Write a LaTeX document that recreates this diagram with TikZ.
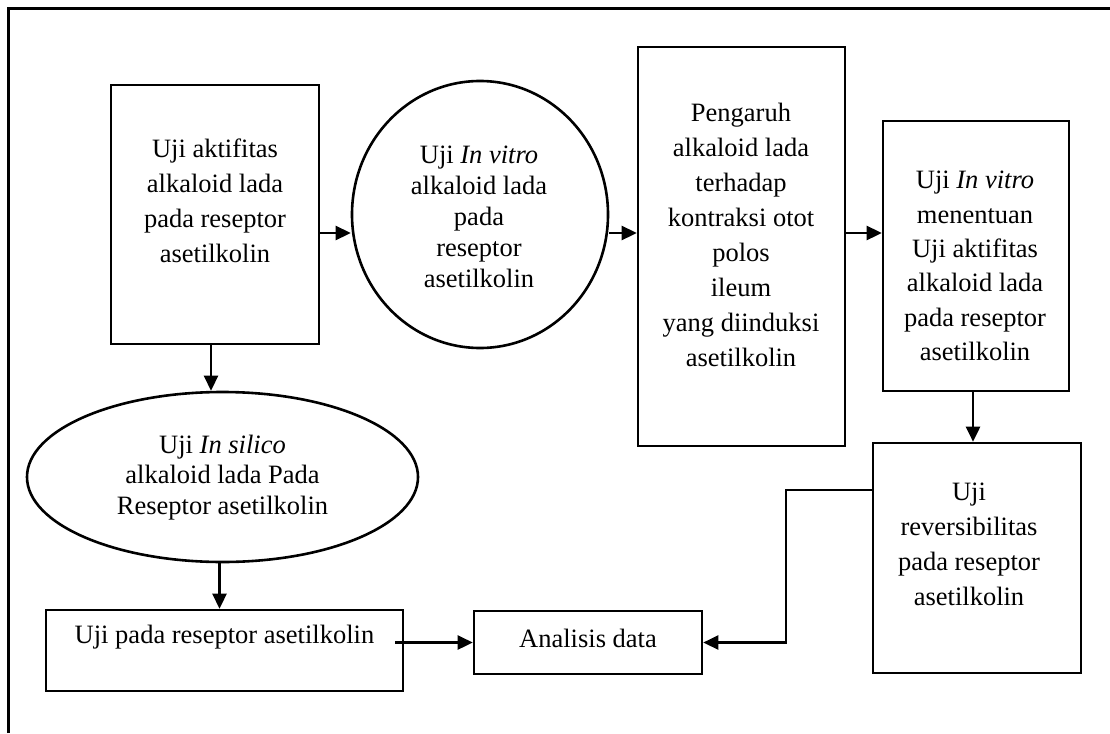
\documentclass[tikz,border=0pt]{standalone}
\usepackage{fontspec}
\setmainfont{Liberation Serif}
\usetikzlibrary{arrows.meta,shapes.geometric}
\begin{document}
\begin{tikzpicture}[x=1pt,y=-1pt,
  shp/.style={draw, line width=2.6pt, inner sep=0pt},
  boxnode/.style={shp, rectangle},
  ovalnode/.style={shp, ellipse},
  txt/.style={inner sep=0pt, align=center, font=\fontsize{26.5}{#1}\selectfont},
  txt/.default=35,
  arr/.style={line width=2.6pt, -{Triangle[length=15pt,width=14pt]}},
  frame/.style={line width=3pt}
]
\useasboundingbox (0,0) rectangle (1110,733);
\draw[frame] (8.5,733) -- (8.5,8.5) -- (1110,8.5);

% shapes
\node[boxnode, minimum width=208pt, minimum height=259pt] (b1) at (215,214.5) {};
\node[ovalnode, minimum width=256pt, minimum height=267pt] (c2) at (480,214.5) {};
\node[boxnode, minimum width=207pt, minimum height=399pt] (b3) at (741.5,246.5) {};
\node[boxnode, minimum width=186pt, minimum height=270pt] (b4) at (976,256) {};
\node[boxnode, minimum width=208pt, minimum height=230pt] (b5) at (977,558) {};
\node[ovalnode, minimum width=391pt, minimum height=170pt] (e1) at (222.5,477) {};
\node[boxnode, minimum width=357pt, minimum height=81pt] (b6) at (224.5,650.5) {};
\node[boxnode, minimum width=228pt, minimum height=63pt] (b7) at (588,642.5) {};

% texts
\node[txt=35] (t1) at (215,200.5) {Uji aktifitas\\alkaloid lada\\pada reseptor\\asetilkolin};
\node[txt=31] (t2) at (479,216.5) {Uji \textit{In vitro}\\alkaloid lada\\pada\\reseptor\\asetilkolin};
\node[txt=35] (t3) at (741,234.5) {Pengaruh\\alkaloid lada\\terhadap\\kontraksi otot\\polos\\ileum\\yang diinduksi\\asetilkolin};
\node[txt=34.4] (t4) at (975,266) {Uji \textit{In vitro}\\menentuan\\Uji aktifitas\\alkaloid lada\\pada reseptor\\asetilkolin};
\node[txt=35] (t5) at (969,544.5) {Uji\\reversibilitas\\pada reseptor\\asetilkolin};
\node[txt=30.5] (t6) at (222.5,477.5) {Uji \textit{In silico}\\alkaloid lada Pada\\Reseptor asetilkolin};
\node[txt] (t7) at (224.5,637) {Uji pada reseptor asetilkolin};
\node[txt] (t8) at (588,638) {Analisis data};

% connectors
\coordinate (row) at (0,233);
\coordinate (k1) at (786,490);
\draw[arr] (b1.east |- row) -- (c2.west |- row);
\draw[arr] (c2.east |- row) -- (b3.west |- row);
\draw[arr] (b3.east |- row) -- (b4.west |- row);
\draw[arr] ([xshift=-3pt]b4.south) -- ([xshift=-3pt]b4.south |- b5.north);
\draw[arr] ([xshift=-4pt]b1.south) -- ([xshift=-4pt]b1.south |- e1.north);
\draw[arr] ([xshift=-3pt]e1.south) -- ([xshift=-3pt]e1.south |- b6.north);
\draw[arr] ([xshift=-9pt]b6.east |- b7.west) -- (b7.west);
\draw[arr] (b5.west |- k1) -- (k1) |- (b7.east);
\end{tikzpicture}
\end{document}
